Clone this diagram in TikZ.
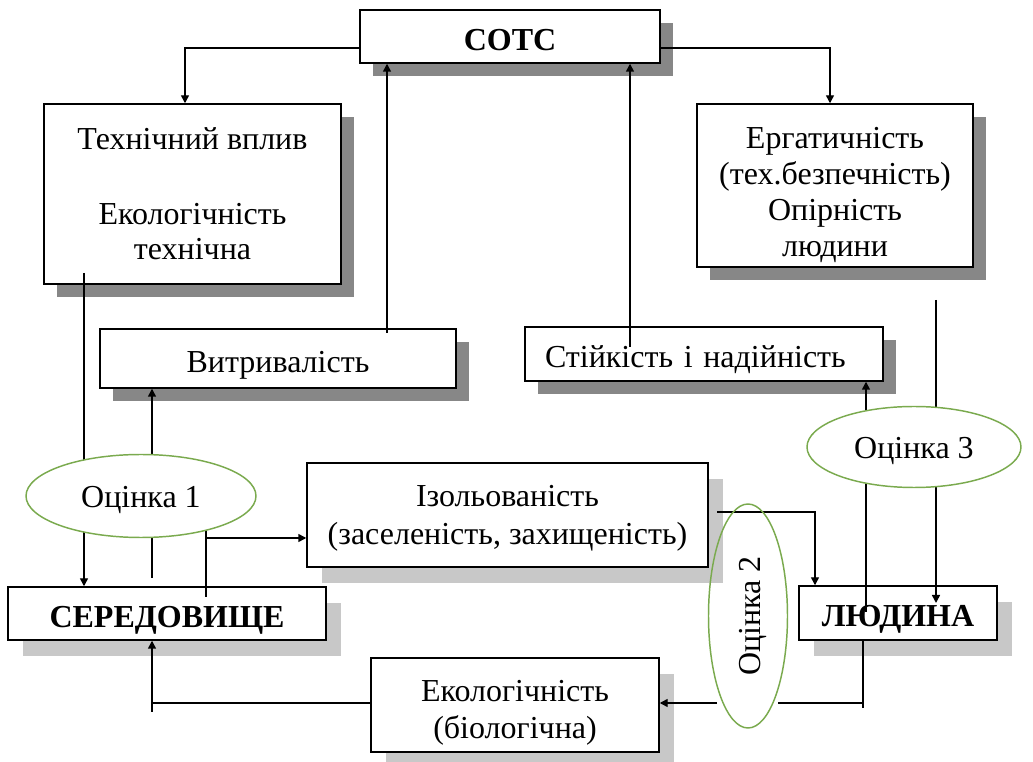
\documentclass[tikz,border=0pt]{standalone}
\usepackage{fontspec}
\setmainfont{Liberation Serif}
\usetikzlibrary{shadows,arrows.meta,calc,shapes.geometric}
\definecolor{ellgreen}{RGB}{122,170,78}
\definecolor{shdark}{RGB}{135,135,135}
\definecolor{shlight}{RGB}{200,200,200}
\begin{document}
\begin{tikzpicture}[x=0.75pt,y=-0.75pt,
  font=\fontsize{24}{27}\selectfont,
  box/.style={draw, line width=1.1pt, fill=white, inner sep=0pt, align=center},
  oneline/.style={text height=21pt, text depth=0pt},
  shd/.style={drop shadow={shadow xshift=9.75pt, shadow yshift=-9.4pt, fill=shdark, opacity=1}},
  shl/.style={drop shadow={shadow xshift=11pt, shadow yshift=-12pt, fill=shlight, opacity=1}},
  oval/.style={draw=ellgreen, line width=1.1pt, ellipse, inner sep=0pt, text height=18pt, text depth=0pt},
  arr/.style={-{Triangle[length=6pt,width=6pt]}},
  conn/.style={line width=1.1pt}
]
\useasboundingbox (0,0) rectangle (1033,762);
\fill[white] (0,0) rectangle (1033,762);

% boxes
\node[box,shd,oneline,minimum width=225pt,minimum height=39.75pt,font=\fontsize{24}{27}\selectfont\bfseries] (sots) at (510,36.5) {СОТС};
\node[box,shd,minimum width=222.75pt,minimum height=135pt,font=\fontsize{24}{26.25}\selectfont] (tech) at (192.5,194) {Технічний вплив\\[30pt]Екологічність\\технічна};
\node[box,shd,minimum width=207pt,minimum height=122.25pt,font=\fontsize{24}{27}\selectfont] (ergo) at (835,185.5) {\rule{0pt}{30pt}Ергатичність\\(тех.безпечність)\\Опірність\\людини};
\node[box,shd,oneline,minimum width=267pt,minimum height=44.25pt] (vitr) at (278,358.5) {Витривалість};
\node[box,shd,oneline,text width=238.5pt,inner xsep=15pt,align=left,minimum height=40.5pt] (stiik) at (704,354) {Стійкість і надійність};
\node[box,shl,oneline,minimum width=238.5pt,minimum height=39.75pt,font=\fontsize{24}{27}\selectfont\bfseries] (ser) at (167,613.5) {СЕРЕДОВИЩЕ};
\node[box,shl,minimum width=300.75pt,minimum height=78pt,font=\fontsize{24}{28.5}\selectfont] (izol) at (507.5,515) {\rule{0pt}{21pt}Ізольованість\\(заселеність, захищеність)};
\node[box,shl,oneline,minimum width=148.5pt,minimum height=40.5pt,font=\fontsize{24}{27}\selectfont\bfseries] (lyud) at (898,613) {ЛЮДИНА};
\node[box,shl,minimum width=216pt,minimum height=70.5pt,font=\fontsize{24}{27.75}\selectfont] (eko) at (515,705) {\rule{0pt}{28pt}Екологічність\\(біологічна)};

% helper coordinates
\coordinate (c1) at (185,48);
\coordinate (c2) at (830,48);
\coordinate (c3) at (387,333);
\coordinate (c4) at (630,347);
\coordinate (c5) at (84,273);
\coordinate (c6) at (152,578);
\coordinate (c7) at (206,538);
\coordinate (c8) at (206,597);
\coordinate (c9) at (717,512);
\coordinate (c10) at (815,512);
\coordinate (c11) at (863,708);
\coordinate (c12) at (778,703);
\coordinate (c13) at (717,703);
\coordinate (c14) at (152,703);
\coordinate (c15) at (152,712);
\coordinate (c16) at (936,300);
\coordinate (c17) at (936,603);
\coordinate (c18) at (866,612);

% connectors
\draw[conn,arr] (sots.west |- c1) -| (tech.north -| c1);
\draw[conn,arr] (sots.east |- c2) -| (ergo.north -| c2);
\draw[conn,arr] (c3) -- (sots.south -| c3);
\draw[conn,arr] (c4) -- (sots.south -| c4);
\draw[conn,arr] (c5) -- (ser.north -| c5);
\draw[conn,arr] (c6) -- (vitr.south -| c6);
\draw[conn] (c8) ++(0,-80) -- (c8);
\draw[conn,arr] (c7) -- (izol.west |- c7);
\draw[conn,arr] (c9) -- (c10) -- (lyud.north -| c10);
\draw[conn] (lyud.south -| c11) -- (c11);
\draw[conn] (c11 |- c12) -- (c12);
\draw[conn,arr] (c13) -- (eko.east |- c13);
\draw[conn,arr] (eko.west |- c14) -- (c14) -- (ser.south -| c14);
\draw[conn] (c14) -- (c15);
\draw[conn,arr] (c16) -- (c17);
\draw[conn,arr] (c18) -- (stiik.south -| c18);

% ellipses
\node[oval,fill=white,minimum width=172.5pt,minimum height=62.25pt] (o1) at (141,496) {Оцінка 1};
\node[oval,fill=white,minimum width=160.5pt,minimum height=60.75pt] (o3) at (914,447) {Оцінка 3};
\node[oval,rotate=90,minimum width=168pt,minimum height=59.25pt] (o2) at (748,616) {Оцінка 2};
\end{tikzpicture}
\end{document}
